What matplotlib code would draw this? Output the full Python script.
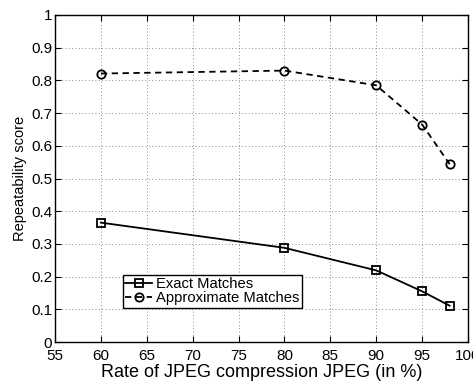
import matplotlib
matplotlib.use("Agg")
import matplotlib.pyplot as plt

plt.rcParams["font.family"] = ["Liberation Sans", "DejaVu Sans"]

# JPEG compression rate (%) and repeatability scores
rates = [60, 80, 90, 95, 98]
exact = [0.365, 0.288, 0.219, 0.155, 0.111]
approx = [0.821, 0.830, 0.785, 0.665, 0.544]

fig = plt.figure(figsize=(4.73, 3.86), dpi=100)
ax = fig.add_axes([55 / 473, 1 - 342 / 386, 413 / 473, 327 / 386])

ax.plot(rates, exact, "k-", marker="s", markersize=6, markerfacecolor="none",
        markeredgewidth=1.3, linewidth=1.3, label="Exact Matches")
ax.plot(rates, approx, "k--", marker="o", markersize=6, markerfacecolor="none",
        markeredgewidth=1.3, linewidth=1.3, dashes=(3.5, 2.5), label="Approximate Matches")

ax.set_xlim(55, 100)
ax.set_ylim(0, 1)
ax.set_xticks(range(55, 101, 5))
ax.set_yticks([i / 10 for i in range(11)])
ax.set_yticklabels(["0", "0.1", "0.2", "0.3", "0.4", "0.5", "0.6", "0.7", "0.8", "0.9", "1"])
ax.tick_params(direction="in", length=4, labelsize=11, top=True, right=True, pad=2)
ax.tick_params(axis="x", pad=5)
ax.grid(True, linestyle=(0, (1, 3)), color="#666666", linewidth=0.6)
for s in ax.spines.values():
    s.set_linewidth(1.0)

ax.set_xlabel("Rate of JPEG compression JPEG (in %)", fontsize=13, labelpad=1)
ax.set_ylabel("Repeatability score", fontsize=10.5, labelpad=3)

leg = ax.legend(loc="lower left", bbox_to_anchor=(0.165, 0.105), fontsize=10.6,
                fancybox=False, edgecolor="black", framealpha=1,
                handlelength=1.8, handletextpad=0.3, borderpad=0.15,
                labelspacing=0.05, borderaxespad=0)
leg.get_frame().set_linewidth(1.0)

fig.savefig("out.png", dpi=100, facecolor="white")
